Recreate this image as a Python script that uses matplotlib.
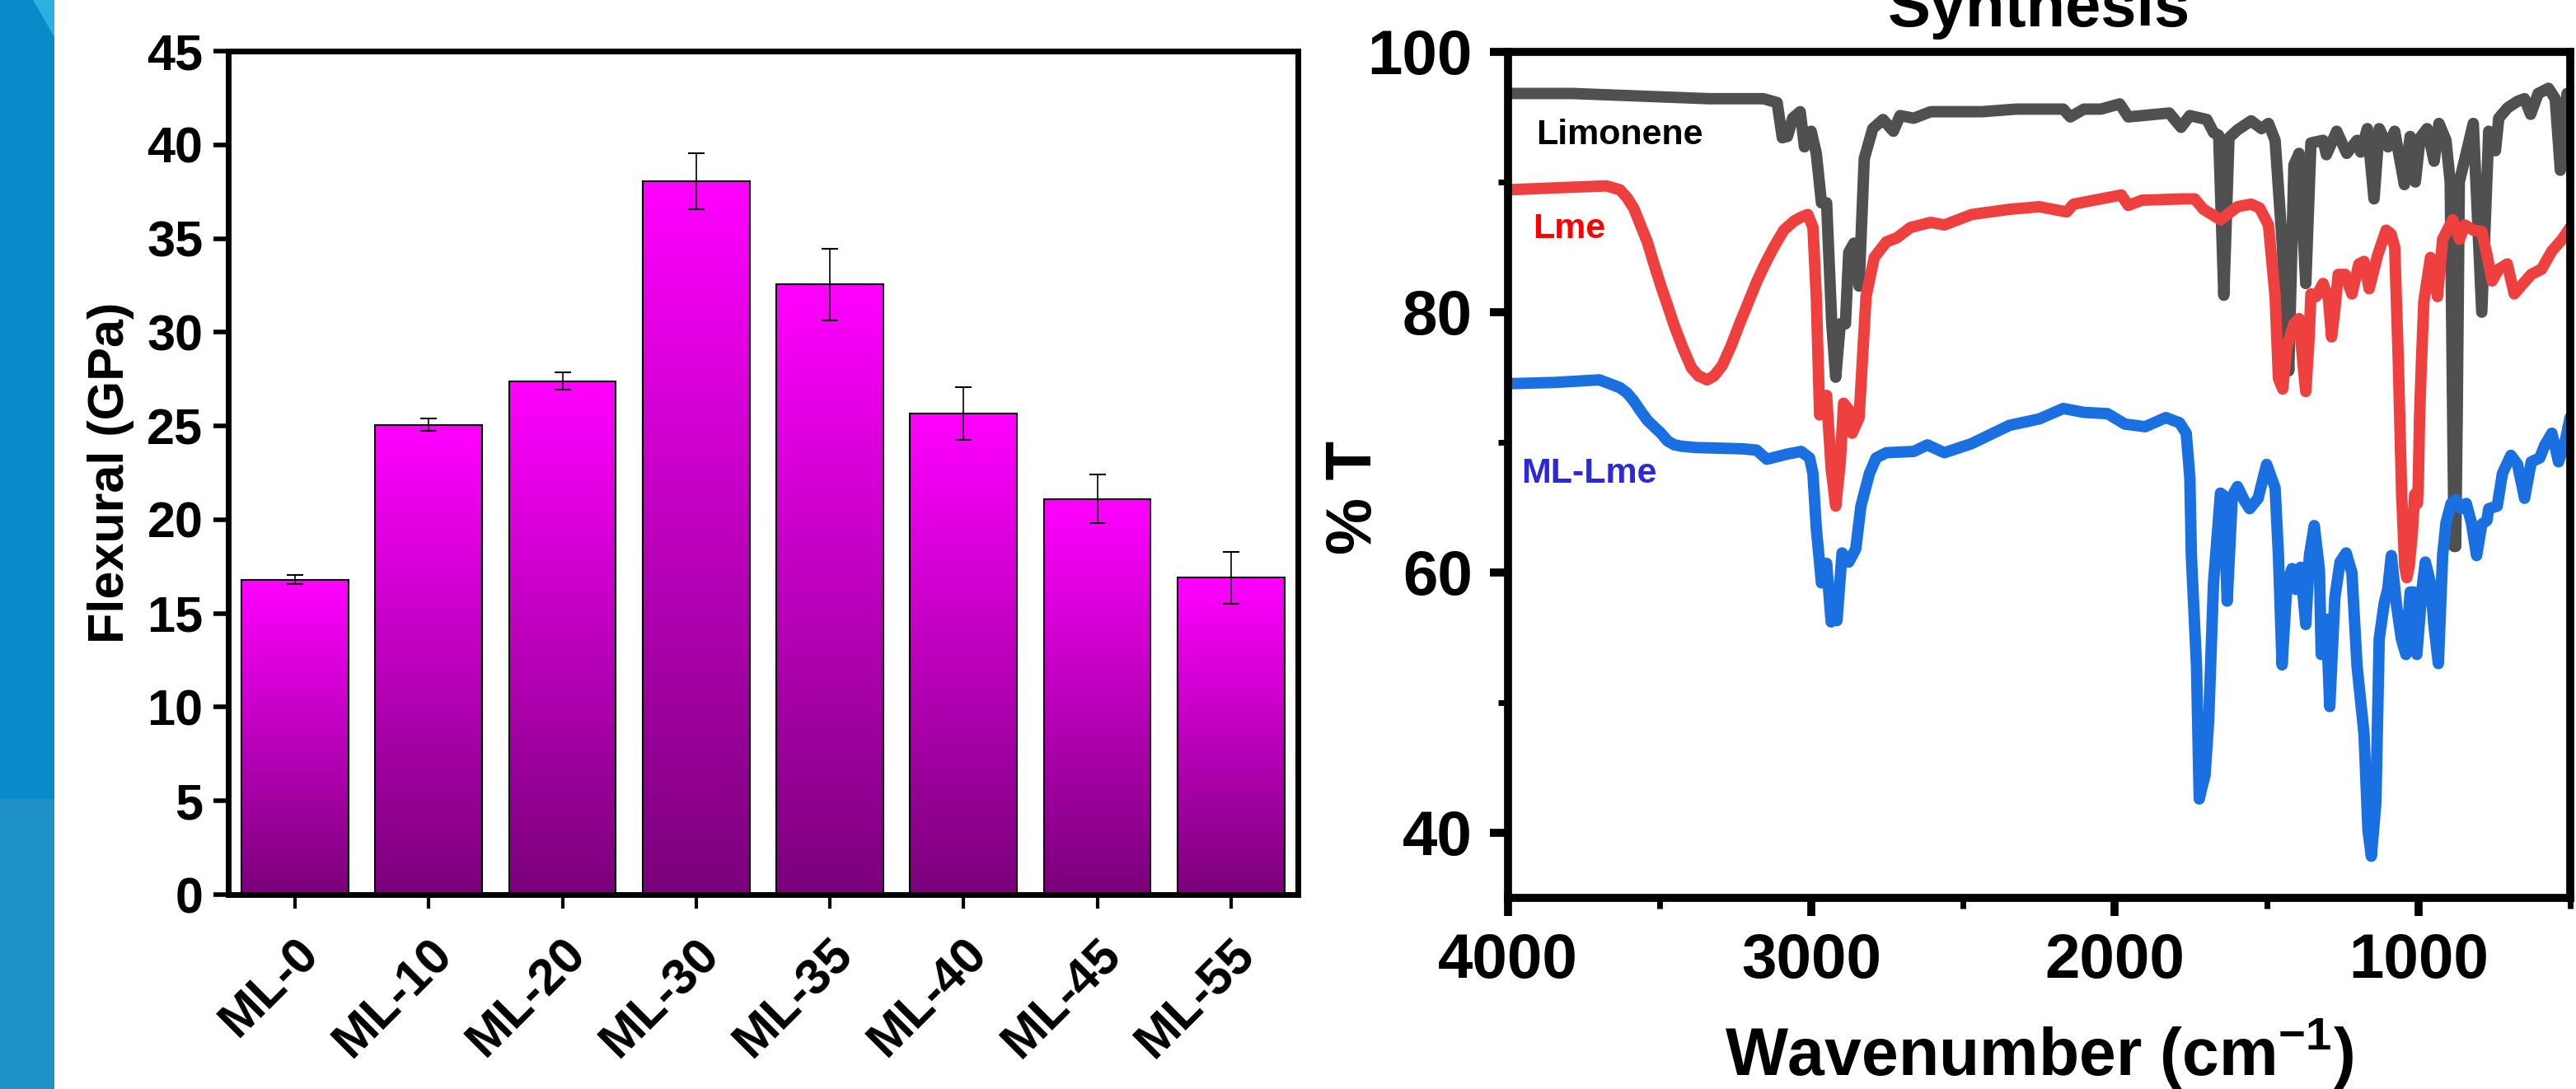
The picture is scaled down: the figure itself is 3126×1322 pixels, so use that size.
# Import required libraries
import numpy as np
import matplotlib
matplotlib.use("Agg")
import matplotlib.pyplot as plt
from matplotlib.colors import LinearSegmentedColormap
from matplotlib.patches import Rectangle, Polygon
from matplotlib.ticker import MultipleLocator

plt.rcParams["font.family"] = ["Liberation Sans", "DejaVu Sans"]
plt.rcParams["font.weight"] = "bold"
plt.rcParams["axes.labelweight"] = "bold"
plt.rcParams["mathtext.default"] = "regular"

# Flexural data (bar chart)
samples = ["ML-0", "ML-10", "ML-20", "ML-30", "ML-35", "ML-40", "ML-45", "ML-55"]
flexural = [16.8, 25.05, 27.4, 38.05, 32.55, 25.65, 21.1, 16.9]
flexural_err = [0.23, 0.33, 0.45, 1.5, 1.9, 1.4, 1.3, 1.4]

# FTIR spectra
limonene_wn = [4000, 3788, 3563, 3338, 3158, 3113, 3096, 3079, 3062, 3037,
               3023, 3001, 2984, 2967, 2950, 2933, 2920, 2905, 2888, 2877,
               2860, 2843, 2826, 2798, 2764, 2730, 2708, 2663, 2607, 2438,
               2325, 2249, 2170, 2147, 2102, 2046, 1984, 1956, 1911, 1821,
               1782, 1753, 1697, 1675, 1658, 1641, 1624, 1596, 1551, 1517,
               1494, 1472, 1449, 1427, 1410, 1393, 1371, 1354, 1314, 1303,
               1269, 1236, 1202, 1190, 1168, 1146, 1129, 1100, 1078, 1046,
               1027, 1010, 994, 971, 948, 932, 909, 895, 886, 882,
               877, 872, 865, 819, 791, 768, 746, 735, 706, 673,
               650, 630, 605, 571, 549, 532, 510, 500]
limonene_t = [96.8, 96.8, 96.6, 96.4, 96.4, 96.1, 93.4, 93.5, 94.9, 95.4,
              92.7, 93.9, 92.2, 88.4, 88.4, 79.1, 75.0, 79.1, 79.1, 84.6,
              85.3, 82.0, 91.8, 94.1, 94.8, 93.9, 95.1, 94.9, 95.4, 95.4,
              95.6, 95.6, 95.6, 95.0, 95.6, 95.6, 96.0, 95.0, 95.1, 95.3,
              94.2, 95.1, 94.8, 93.8, 93.6, 81.3, 93.4, 94.0, 94.7, 94.1,
              94.5, 93.2, 85.4, 75.5, 91.3, 92.2, 82.2, 93.0, 93.2, 92.1,
              93.9, 92.2, 93.2, 92.3, 94.1, 88.7, 94.1, 92.7, 93.9, 89.8,
              93.5, 90.0, 93.4, 94.1, 91.6, 94.5, 93.2, 90.0, 70.0, 62.0,
              62.0, 72.0, 90.0, 94.5, 80.0, 93.9, 92.4, 94.9, 95.7, 96.2,
              96.4, 95.2, 96.8, 97.2, 96.4, 90.9, 96.8, 96.0]

lme_wn = [4000, 3788, 3676, 3631, 3608, 3586, 3541, 3519, 3496, 3474,
          3451, 3423, 3395, 3372, 3344, 3321, 3294, 3265, 3237, 3209,
          3181, 3153, 3124, 3091, 3057, 3034, 3012, 2995, 2984, 2973,
          2962, 2950, 2935, 2920, 2905, 2894, 2877, 2866, 2843, 2820,
          2793, 2753, 2719, 2674, 2607, 2562, 2472, 2348, 2249, 2159,
          2136, 2024, 1979, 1956, 1911, 1776, 1737, 1708, 1652, 1596,
          1551, 1523, 1494, 1472, 1461, 1447, 1433, 1410, 1393, 1380,
          1371, 1360, 1354, 1337, 1314, 1296, 1286, 1276, 1264, 1241,
          1219, 1196, 1179, 1162, 1134, 1106, 1090, 1078, 1067, 1055,
          1045, 1038, 1030, 1020, 1012, 1003, 1000, 996, 990, 982,
          960, 937, 920, 887, 864, 847, 819, 791, 774, 757,
          735, 707, 684, 662, 628, 594, 560, 526, 500]
lme_t = [89.4, 89.6, 89.7, 89.4, 88.8, 88.0, 85.4, 83.7, 82.0, 80.5,
         78.9, 77.2, 75.7, 75.1, 74.8, 75.1, 75.9, 77.4, 79.1, 80.7,
         82.3, 83.7, 85.0, 86.3, 87.0, 87.3, 87.5, 86.5, 81.2, 72.1,
         73.4, 73.6, 68.0, 65.1, 68.5, 73.0, 72.5, 70.7, 71.9, 81.2,
         84.2, 85.4, 85.7, 86.5, 86.9, 86.7, 87.5, 87.9, 88.1, 87.7,
         88.3, 88.8, 89.0, 88.2, 88.6, 88.7, 88.7, 87.9, 87.1, 88.1,
         88.3, 88.0, 86.7, 81.2, 74.9, 74.1, 77.4, 79.1, 79.5, 76.0,
         73.9, 78.0, 81.4, 81.2, 82.2, 81.0, 78.1, 80.0, 82.9, 82.9,
         81.4, 83.7, 83.9, 81.8, 84.4, 86.3, 86.0, 85.0, 77.0, 66.0,
         60.5, 59.6, 60.5, 63.0, 66.0, 65.3, 67.0, 72.0, 76.0, 80.8,
         84.2, 81.2, 85.6, 87.1, 85.6, 86.7, 86.3, 86.2, 84.4, 82.4,
         83.3, 83.7, 81.4, 82.0, 82.9, 83.3, 84.7, 85.6, 86.5]

mllme_wn = [4000, 3845, 3699, 3631, 3608, 3586, 3563, 3541, 3519, 3496,
            3474, 3451, 3428, 3383, 3226, 3181, 3147, 3113, 3079, 3034,
            3006, 2995, 2984, 2967, 2950, 2935, 2925, 2916, 2899, 2877,
            2854, 2837, 2809, 2787, 2753, 2663, 2618, 2562, 2472, 2348,
            2249, 2170, 2102, 2024, 1967, 1900, 1832, 1787, 1765, 1753,
            1748, 1731, 1722, 1713, 1703, 1691, 1675, 1652, 1641, 1630,
            1613, 1596, 1573, 1556, 1528, 1500, 1472, 1461, 1449, 1433,
            1416, 1404, 1388, 1371, 1359, 1343, 1326, 1320, 1303, 1292,
            1275, 1258, 1238, 1219, 1202, 1179, 1166, 1155, 1140, 1129,
            1112, 1101, 1089, 1072, 1056, 1041, 1027, 1016, 1005, 988,
            977, 960, 949, 934, 920, 909, 892, 875, 859, 842,
            825, 808, 791, 774, 768, 740, 723, 695, 673, 650,
            628, 600, 583, 560, 538, 515, 500]
mllme_t = [74.5, 74.6, 74.8, 74.2, 73.8, 73.2, 72.4, 71.7, 71.2, 70.7,
           70.1, 69.8, 69.7, 69.6, 69.5, 69.4, 68.7, 68.9, 69.1, 69.3,
           68.8, 67.6, 63.4, 59.2, 60.7, 56.2, 57.5, 56.3, 61.5, 60.8,
           61.8, 65.1, 67.6, 68.8, 69.2, 69.3, 69.8, 69.2, 69.9, 71.3,
           71.8, 72.6, 72.3, 72.2, 71.4, 71.2, 71.9, 71.5, 70.7, 67.3,
           61.3, 52.8, 42.6, 43.5, 44.4, 48.6, 59.2, 66.1, 65.9, 57.8,
           65.9, 66.6, 65.5, 64.9, 65.7, 68.3, 66.5, 61.3, 52.9, 59.2,
           60.3, 58.7, 60.4, 56.0, 61.3, 63.6, 60.2, 53.7, 56.4, 49.7,
           58.1, 60.8, 61.5, 60.0, 52.8, 47.6, 40.2, 38.2, 42.3, 54.9,
           57.7, 58.7, 61.3, 57.5, 54.9, 53.7, 58.5, 58.5, 53.7, 58.7,
           60.8, 59.2, 56.0, 53.0, 61.3, 63.8, 65.3, 65.6, 64.9, 65.3,
           63.8, 61.3, 63.7, 64.0, 64.9, 65.1, 67.6, 69.0, 68.3, 65.7,
           68.5, 68.8, 69.8, 70.7, 68.5, 70.2, 71.9]

# Create figure
fig = plt.figure(figsize=(31.26, 13.22), dpi=100)

# Blue strip on the left edge
fig.patches.append(Rectangle((0, 0), 66 / 3126, 1, transform=fig.transFigure,
                             facecolor="#0a8bc9", edgecolor="none", zorder=0))
fig.patches.append(Rectangle((0, 0), 66 / 3126, 352 / 1322, transform=fig.transFigure,
                             facecolor="#1f91c9", edgecolor="none", zorder=0))
fig.patches.append(Polygon([(40 / 3126, 1), (66 / 3126, 1), (66 / 3126, 1 - 45 / 1322)],
                           closed=True, transform=fig.transFigure,
                           facecolor="#2cb0e0", edgecolor="none", zorder=0))

# ---------------- Bar chart ----------------
ax1 = fig.add_axes([0.0886, 0.1785, 0.4152, 0.7746])
x = np.arange(len(samples))
bars = ax1.bar(x, flexural, width=0.8, facecolor="none", edgecolor="black",
               linewidth=1.5, zorder=3)

# Gradient fill for each bar
cmap = LinearSegmentedColormap.from_list("bar_grad", ["#7a007a", "#ff00ff"])
grad = np.linspace(0, 1, 256).reshape(-1, 1)
for b in bars:
    ax1.imshow(grad, extent=[b.get_x(), b.get_x() + b.get_width(), 0, b.get_height()],
               origin="lower", aspect="auto", cmap=cmap, zorder=2)

ax1.errorbar(x, flexural, yerr=flexural_err, fmt="none", ecolor="black",
             elinewidth=1.2, capsize=7.5, capthick=1.5, zorder=4)

ax1.set_xlim(-0.5, 7.5)
ax1.set_ylim(0, 45)
ax1.yaxis.set_major_locator(MultipleLocator(5))
ax1.set_xticks(x)
ax1.set_xticklabels(samples, rotation=45, ha="right", va="top", rotation_mode="anchor")
ax1.tick_params(axis="y", direction="out", length=13, width=4, labelsize=44, pad=9)
ax1.tick_params(axis="x", direction="out", length=12, width=3, labelsize=44, pad=19)
for s in ax1.spines.values():
    s.set_linewidth(5)
ax1.set_ylabel("Flexural (GPa)", fontsize=44, labelpad=11)

# ---------------- FTIR chart ----------------
ax2 = fig.add_axes([0.5854, 0.1755, 0.4123, 0.7769])
line_kw = dict(linewidth=10, solid_capstyle="round", solid_joinstyle="round")
ax2.plot(limonene_wn, limonene_t, color="#505050", **line_kw)
ax2.plot(lme_wn, lme_t, color="#ef4040", **line_kw)
ax2.plot(mllme_wn, mllme_t, color="#1a70e0", **line_kw)

ax2.text(3907, 93.6, "Limonene", fontsize=31, color="black", va="center", ha="left")
ax2.text(3918, 86.4, "Lme", fontsize=31, color="#ff0000", va="center", ha="left")
ax2.text(3955, 67.6, "ML-Lme", fontsize=31, color="#2a2ad8", va="center", ha="left")

ax2.set_xlim(4000, 500)
ax2.set_ylim(35, 100)
ax2.xaxis.set_major_locator(MultipleLocator(1000))
ax2.xaxis.set_minor_locator(MultipleLocator(500))
ax2.yaxis.set_major_locator(MultipleLocator(20))
ax2.yaxis.set_minor_locator(MultipleLocator(10))
ax2.tick_params(axis="both", which="major", direction="out", length=16, width=7,
                labelsize=55)
ax2.tick_params(axis="both", which="minor", direction="out", length=9, width=5)
ax2.tick_params(axis="y", which="major", pad=15)
ax2.tick_params(axis="x", which="major", pad=14)
for s in ax2.spines.values():
    s.set_linewidth(7)

ax2.set_xlabel("Wavenumber (cm$^{-1}$)", fontsize=58, labelpad=22)
ax2.set_ylabel("% T", fontsize=56)
ax2.yaxis.set_label_coords(-0.116, 0.473)
ax2.text(0.5, 1.03, "Synthesis", transform=ax2.transAxes, ha="center",
         va="baseline", fontsize=56)

plt.savefig("out.png", dpi=100)
